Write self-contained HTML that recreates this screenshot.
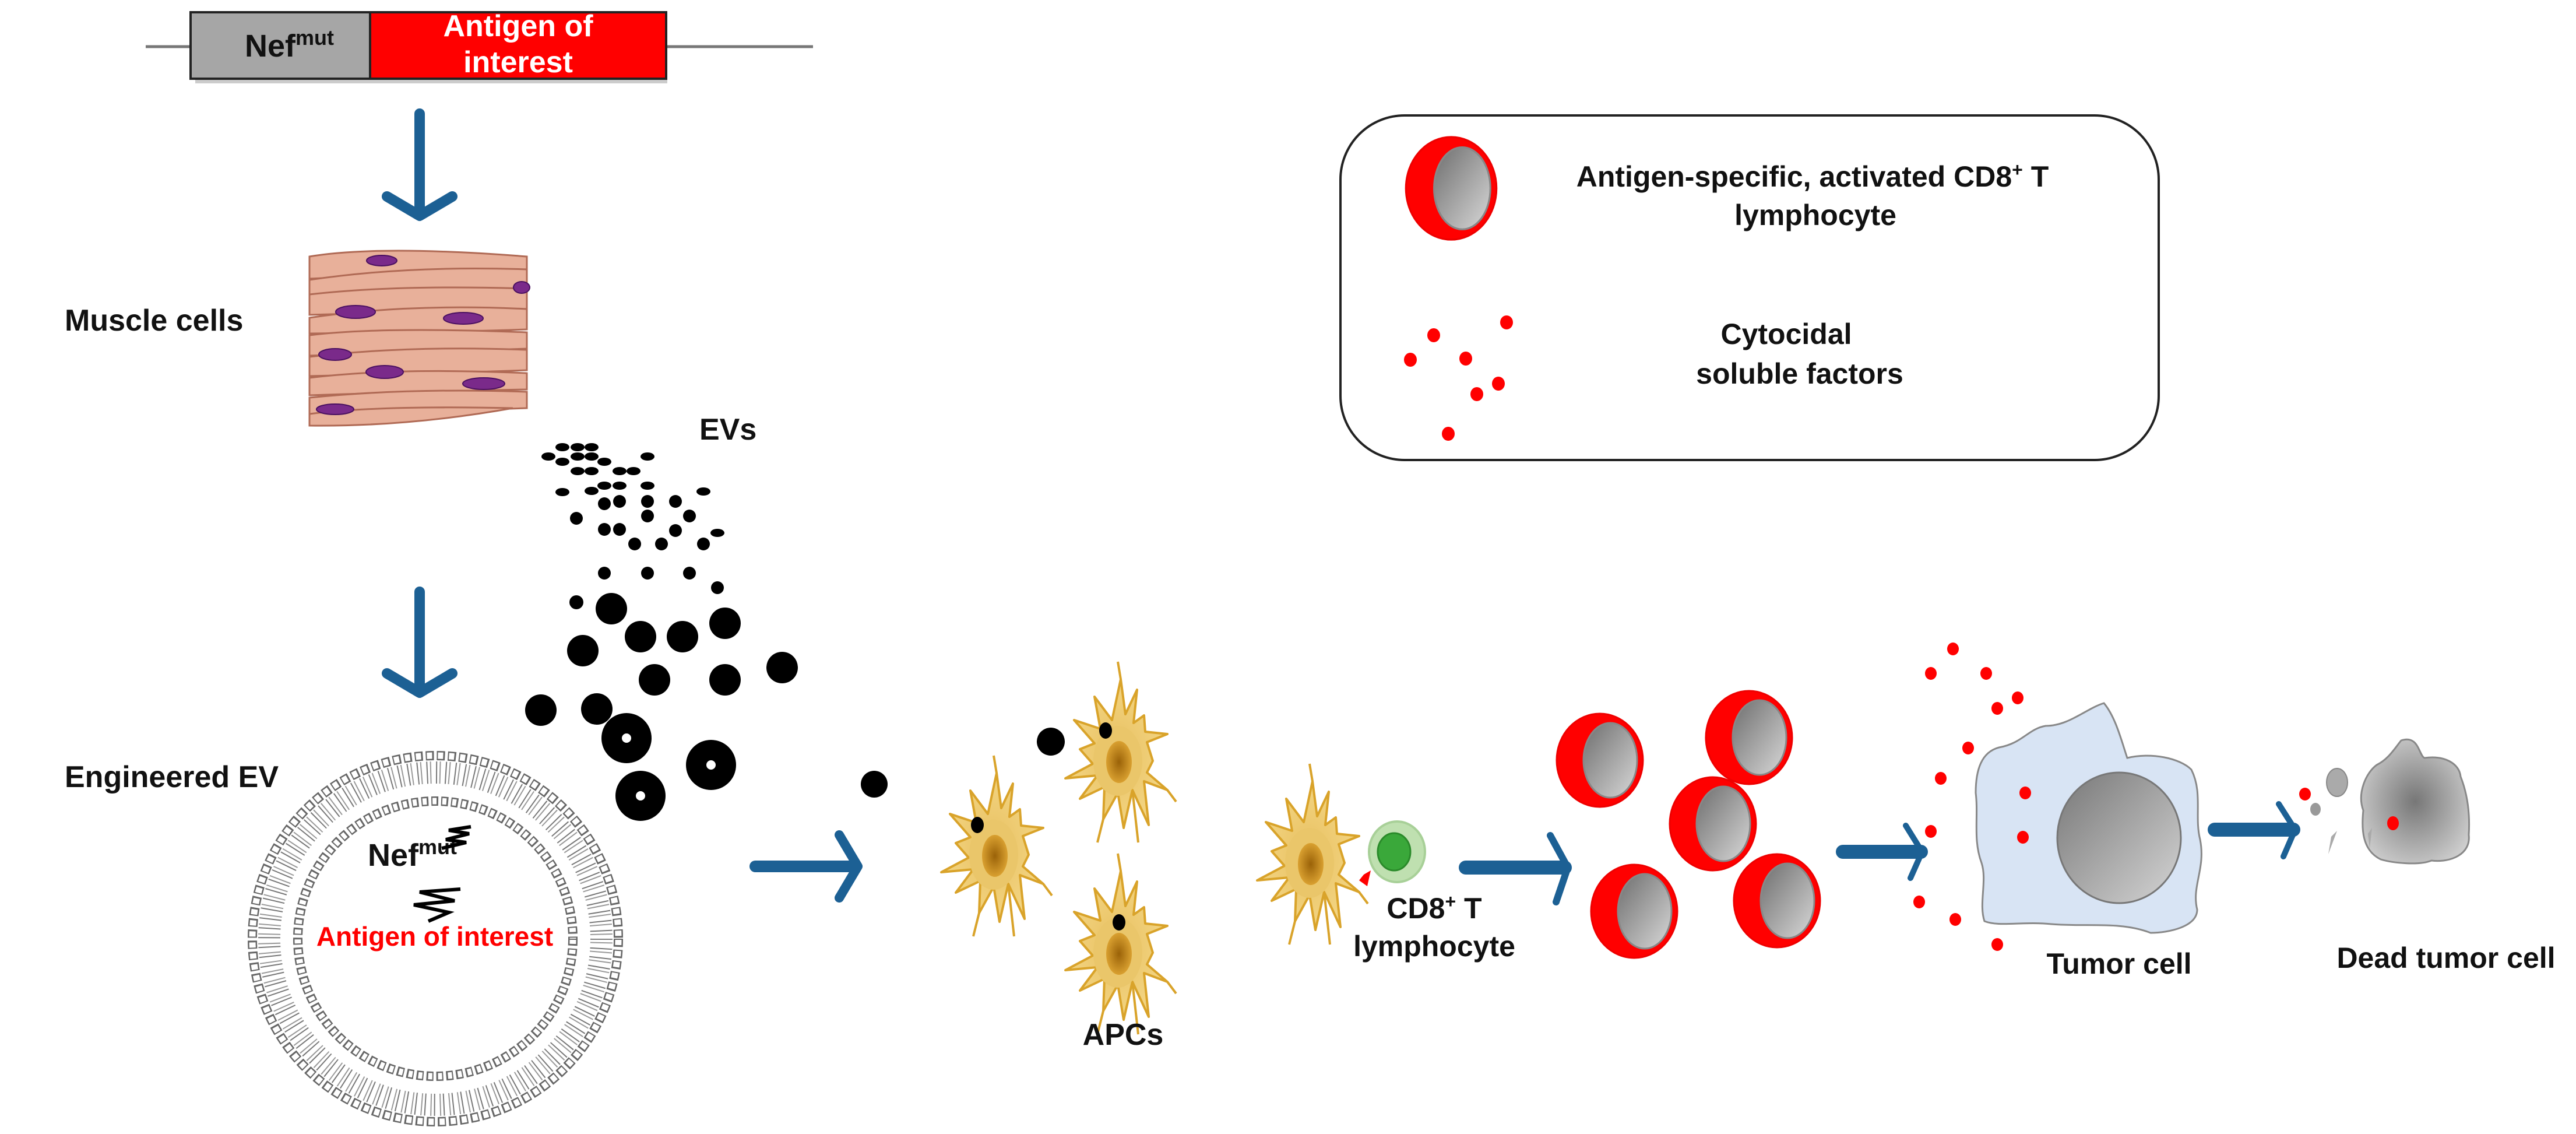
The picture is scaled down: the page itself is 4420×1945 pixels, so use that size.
<!DOCTYPE html>
<html><head><meta charset="utf-8"><style>
html,body{margin:0;padding:0;background:#fff}
svg{display:block}
text{font-family:"Liberation Sans",Arial,sans-serif;font-weight:bold}
</style></head><body>
<svg width="4420" height="1945" viewBox="0 0 4420 1945" xmlns="http://www.w3.org/2000/svg">
<defs>
<linearGradient id="gray" x1="0" y1="0" x2="1" y2="1"><stop offset="0" stop-color="#6e6e6e"/><stop offset="1" stop-color="#d8d8d8"/></linearGradient>
<radialGradient id="apc" cx="0.5" cy="0.5" r="0.6"><stop offset="0" stop-color="#e8c060"/><stop offset="1" stop-color="#f5d98a"/></radialGradient>
<radialGradient id="nuc" cx="0.5" cy="0.5" r="0.5"><stop offset="0" stop-color="#9a6208"/><stop offset="1" stop-color="#d9a030"/></radialGradient>
<radialGradient id="dead" cx="0.5" cy="0.5" r="0.6"><stop offset="0" stop-color="#777"/><stop offset="1" stop-color="#d0d0d0"/></radialGradient>
<linearGradient id="tnuc" x1="0" y1="0" x2="1" y2="1"><stop offset="0" stop-color="#777"/><stop offset="1" stop-color="#d5d5d5"/></linearGradient>
<g id="rcell">
  <ellipse cx="0" cy="0" rx="74" ry="80" fill="#f00" stroke="#e00" stroke-width="3"/>
  <ellipse cx="18" cy="0" rx="46" ry="64" fill="url(#gray)" stroke="#888" stroke-width="3"/>
</g>
<g id="apcg">
  <path d="M0,-130 L8,-70 L28,-112 L22,-55 L40,-68 L42,-40 L80,-36 L45,-22 L55,10 L45,30 L80,60 L40,45 L48,120 L20,60 L5,125 L-5,65 L-30,110 L-28,55 L-70,75 L-40,35 L-95,40 L-48,15 L-70,-10 L-45,-20 L-80,-60 L-35,-45 L-45,-100 L-15,-60 Z" fill="url(#apc)" stroke="#d9a32a" stroke-width="4" stroke-linejoin="round"/>
  <ellipse cx="-5" cy="10" rx="42" ry="60" fill="#eac66a"/>
  <ellipse cx="-3" cy="12" rx="22" ry="36" fill="url(#nuc)"/>
  <g stroke="#d9a32a" stroke-width="4" fill="none">
    <path d="M0,-130 L-5,-160"/><path d="M20,60 L30,150"/><path d="M-30,110 L-40,150"/><path d="M80,60 L95,80"/>
  </g>
</g>
</defs>

<!-- gene construct -->
<line x1="250" y1="80" x2="1395" y2="80" stroke="#777" stroke-width="5"/>
<rect x="335" y="29" width="810" height="114" fill="#999" opacity="0.5"/>
<rect x="327" y="21" width="308" height="114" fill="#a6a6a6" stroke="#222" stroke-width="4"/>
<rect x="635" y="21" width="508" height="114" fill="#f00" stroke="#222" stroke-width="4"/>
<text x="420" y="97" font-size="54" fill="#111">Nef<tspan font-size="36" dy="-20">mut</tspan></text>
<text x="889" y="62" font-size="52" fill="#fff" text-anchor="middle">Antigen of</text>
<text x="889" y="124" font-size="52" fill="#fff" text-anchor="middle">interest</text>

<!-- down arrows -->
<g stroke="#1c6094" stroke-width="18" fill="none" stroke-linecap="round" stroke-linejoin="round">
<line x1="720" y1="195" x2="720" y2="368"/><polyline points="664,337 720,370 776,337"/>
<line x1="720" y1="1015" x2="720" y2="1186"/><polyline points="664,1155 720,1188 776,1155"/>
</g>

<!-- muscle cells -->
<g>
<rect x="531" y="430" width="373" height="300" fill="#fff"/>
<g fill="#e8b09a" stroke="#b06a55" stroke-width="3">
<path d="M531,440 Q650,420 904,440 L904,462 Q700,470 531,478 Z"/>
<path d="M531,480 Q700,455 904,462 L904,500 Q760,505 531,510 Z"/>
<path d="M531,505 Q680,488 904,495 L904,530 Q700,535 531,540 Z"/>
<path d="M531,545 Q700,520 904,530 L904,565 Q760,570 531,572 Z"/>
<path d="M531,575 Q650,560 904,570 L904,598 Q700,605 531,610 Z"/>
<path d="M531,612 Q700,592 904,600 L904,635 Q760,640 531,645 Z"/>
<path d="M531,648 Q680,630 904,640 L904,668 Q700,672 531,678 Z"/>
<path d="M531,682 Q700,665 904,672 L904,700 Q760,705 531,710 Z"/>
<path d="M531,710 Q650,695 880,700 Q700,732 531,730 Z"/>
</g>
<g fill="#7a2a8a" stroke="#4a1060" stroke-width="2">
<ellipse cx="655" cy="447" rx="26" ry="9"/>
<ellipse cx="610" cy="535" rx="34" ry="11"/>
<ellipse cx="795" cy="546" rx="34" ry="10"/>
<ellipse cx="575" cy="608" rx="28" ry="10"/>
<ellipse cx="660" cy="638" rx="32" ry="11"/>
<ellipse cx="830" cy="658" rx="36" ry="10"/>
<ellipse cx="575" cy="702" rx="32" ry="9"/>
<ellipse cx="895" cy="493" rx="14" ry="10"/>
</g>
</g>
<text x="111" y="567" font-size="52" fill="#111">Muscle cells</text>
<text x="1200" y="754" font-size="52" fill="#111">EVs</text>
<text x="111" y="1350" font-size="52" fill="#111">Engineered EV</text>

<!-- EV dots -->
<g fill="#000">
<ellipse cx="965" cy="767" rx="12" ry="7"/><ellipse cx="991" cy="767" rx="12" ry="7"/><ellipse cx="1015" cy="767" rx="12" ry="7"/>
<ellipse cx="941" cy="783" rx="12" ry="7"/><ellipse cx="965" cy="792" rx="12" ry="7"/><ellipse cx="991" cy="783" rx="12" ry="7"/><ellipse cx="1015" cy="783" rx="12" ry="7"/><ellipse cx="1037" cy="792" rx="12" ry="7"/>
<ellipse cx="991" cy="808" rx="12" ry="7"/><ellipse cx="1015" cy="808" rx="12" ry="7"/><ellipse cx="1063" cy="808" rx="12" ry="7"/><ellipse cx="1087" cy="808" rx="12" ry="7"/><ellipse cx="1111" cy="783" rx="12" ry="7"/>
<ellipse cx="1037" cy="833" rx="12" ry="7"/><ellipse cx="1063" cy="833" rx="12" ry="7"/><ellipse cx="1111" cy="833" rx="12" ry="7"/>
<ellipse cx="965" cy="844" rx="12" ry="7"/><ellipse cx="1015" cy="842" rx="12" ry="7"/><ellipse cx="1207" cy="843" rx="12" ry="7"/><ellipse cx="1231" cy="914" rx="12" ry="7"/>
<circle cx="1037" cy="864" r="11"/><circle cx="1063" cy="860" r="11"/><circle cx="1111" cy="860" r="11"/><circle cx="1159" cy="860" r="11"/><circle cx="1111" cy="885" r="11"/><circle cx="1183" cy="885" r="11"/>
<circle cx="989" cy="889" r="11"/><circle cx="1037" cy="908" r="11"/><circle cx="1063" cy="908" r="11"/><circle cx="1159" cy="910" r="11"/>
<circle cx="1089" cy="933" r="11"/><circle cx="1135" cy="933" r="11"/><circle cx="1207" cy="933" r="11"/>
<circle cx="1037" cy="983" r="11"/><circle cx="1111" cy="983" r="11"/><circle cx="1183" cy="983" r="11"/><circle cx="1231" cy="1008" r="11"/>
<circle cx="989" cy="1033" r="12"/>
<circle cx="1049" cy="1044" r="27"/><circle cx="1099" cy="1092" r="27"/><circle cx="1171" cy="1092" r="27"/><circle cx="1244" cy="1069" r="27"/>
<circle cx="1000" cy="1116" r="27"/><circle cx="1123" cy="1166" r="27"/><circle cx="1244" cy="1166" r="27"/><circle cx="1342" cy="1145" r="27"/>
<circle cx="928" cy="1218" r="27"/><circle cx="1024" cy="1216" r="27"/>
<circle cx="1075" cy="1266" r="43"/><circle cx="1220" cy="1312" r="43"/><circle cx="1099" cy="1365" r="43"/>
<circle cx="1500" cy="1345" r="23"/><circle cx="1803" cy="1272" r="24"/>
</g>
<g fill="#fff"><circle cx="1075" cy="1266" r="8"/><circle cx="1220" cy="1312" r="8"/><circle cx="1099" cy="1365" r="8"/></g>

<!-- vesicle bilayer -->
<g fill="none">
<circle cx="747" cy="1610" r="314" stroke-width="16" stroke-dasharray="14 5" stroke="#666"/>
<circle cx="747" cy="1610" r="314" stroke-width="11" stroke-dasharray="9 10" stroke-dashoffset="-2" stroke="#fff"/>
<circle cx="747" cy="1610" r="285" stroke-width="38" stroke-dasharray="2 14" stroke="#777"/>
<circle cx="747" cy="1610" r="285" stroke-width="38" stroke-dasharray="2 14" stroke-dashoffset="-6" stroke="#999"/>
<circle cx="747" cy="1610" r="236" stroke-width="16" stroke-dasharray="12 5" stroke="#666"/>
<circle cx="747" cy="1610" r="236" stroke-width="11" stroke-dasharray="7 10" stroke-dashoffset="-2" stroke="#fff"/>
</g>
<text x="631" y="1485" font-size="54" fill="#111">Nef<tspan font-size="36" dy="-20">mut</tspan></text>
<path d="M758,1455 L800,1445 L765,1440 L805,1430 L770,1424 L808,1418" stroke="#000" stroke-width="6" fill="none"/>
<path d="M790,1525 L720,1530 L780,1545 L710,1552 L770,1565 L735,1580" stroke="#000" stroke-width="6" fill="none"/>
<text x="746" y="1622" font-size="46" fill="#f00" text-anchor="middle">Antigen of interest</text>

<!-- right arrows -->
<g stroke="#1c6094" stroke-width="20" fill="none" stroke-linejoin="round" stroke-linecap="round">
<line x1="1296" y1="1486" x2="1465" y2="1486"/><polyline points="1440,1432 1472,1486 1440,1540" stroke-width="16"/>
<line x1="2515" y1="1488" x2="2685" y2="1488" stroke-width="24"/><polyline points="2660,1433 2690,1488 2670,1547" stroke-width="12"/>
<line x1="3162" y1="1461" x2="3296" y2="1461" stroke-width="24"/><polyline points="3270,1416 3298,1461 3278,1506" stroke-width="10"/>
<line x1="3800" y1="1423" x2="3935" y2="1423" stroke-width="24"/><polyline points="3910,1379 3938,1423 3918,1469" stroke-width="10"/>
</g>

<!-- APCs -->
<use href="#apcg" transform="translate(1710,1456)"/>
<use href="#apcg" transform="translate(1923,1295)"/>
<use href="#apcg" transform="translate(1923,1624)"/>
<use href="#apcg" transform="translate(2252,1470)"/>
<g fill="#000">
<ellipse cx="1677" cy="1415" rx="11" ry="14"/><ellipse cx="1897" cy="1253" rx="11" ry="14"/><ellipse cx="1920" cy="1582" rx="11" ry="14"/>
</g>
<text x="1927" y="1792" font-size="52" fill="#111" text-anchor="middle">APCs</text>

<!-- T cell -->
<ellipse cx="2397" cy="1461" rx="48" ry="52" fill="#bfe0b0" stroke="#a8d098" stroke-width="4"/>
<ellipse cx="2392" cy="1461" rx="28" ry="32" fill="#3aa83a" stroke="#2a8a2a" stroke-width="3"/>
<path d="M2340,1500 L2352,1493 L2346,1520 L2332,1510 Z" fill="#f00"/>
<text x="2461" y="1575" font-size="50" fill="#111" text-anchor="middle">CD8<tspan font-size="32" dy="-18">+</tspan><tspan dy="18"> T</tspan></text>
<text x="2461" y="1640" font-size="50" fill="#111" text-anchor="middle">lymphocyte</text>

<!-- activated T cells -->
<use href="#rcell" transform="translate(2745,1304)"/>
<use href="#rcell" transform="translate(3001,1265)"/>
<use href="#rcell" transform="translate(2939,1413)"/>
<use href="#rcell" transform="translate(2804,1563)"/>
<use href="#rcell" transform="translate(3049,1545)"/>

<!-- tumor cell -->
<path d="M3610,1206 C3630,1230 3640,1270 3650,1300 C3690,1290 3740,1300 3760,1320 C3780,1360 3765,1400 3775,1440 C3785,1490 3760,1520 3770,1560 C3770,1590 3720,1600 3690,1600 C3640,1580 3580,1590 3520,1585 C3470,1580 3430,1590 3405,1580 C3395,1550 3410,1510 3400,1480 C3385,1440 3395,1400 3390,1360 C3390,1320 3400,1290 3430,1282 C3470,1275 3480,1250 3510,1245 C3550,1245 3580,1215 3610,1206 Z" fill="#d8e4f4" stroke="#888" stroke-width="3"/>
<ellipse cx="3636" cy="1437" rx="106" ry="112" fill="url(#tnuc)" stroke="#777" stroke-width="3"/>
<text x="3636" y="1670" font-size="50" fill="#111" text-anchor="middle">Tumor cell</text>

<!-- red dots near tumor -->
<g fill="#f00">
<ellipse cx="3351" cy="1113" rx="10" ry="11"/><ellipse cx="3313" cy="1155" rx="10" ry="11"/><ellipse cx="3408" cy="1155" rx="10" ry="11"/>
<ellipse cx="3462" cy="1197" rx="10" ry="11"/><ellipse cx="3427" cy="1215" rx="10" ry="11"/><ellipse cx="3377" cy="1283" rx="10" ry="11"/>
<ellipse cx="3330" cy="1335" rx="10" ry="11"/><ellipse cx="3475" cy="1360" rx="10" ry="11"/><ellipse cx="3313" cy="1426" rx="10" ry="11"/>
<ellipse cx="3471" cy="1436" rx="10" ry="11"/><ellipse cx="3293" cy="1547" rx="10" ry="11"/><ellipse cx="3355" cy="1577" rx="10" ry="11"/>
<ellipse cx="3427" cy="1620" rx="10" ry="11"/>
</g>

<!-- dead tumor cell -->
<path d="M4120,1270 C4150,1260 4150,1295 4160,1300 C4195,1295 4220,1310 4222,1332 C4235,1365 4238,1400 4236,1432 C4240,1465 4205,1480 4172,1476 C4150,1485 4105,1480 4085,1474 C4052,1458 4052,1420 4055,1390 C4044,1360 4060,1325 4078,1312 C4098,1302 4108,1285 4120,1270 Z" fill="url(#dead)" stroke="#888" stroke-width="3"/>
<ellipse cx="4010" cy="1342" rx="18" ry="24" fill="#aaa" stroke="#888" stroke-width="2"/>
<ellipse cx="3973" cy="1388" rx="9" ry="11" fill="#999"/>
<path d="M4000,1435 L4010,1425 L3995,1465 Z" fill="#aaa"/>
<path d="M4063,1430 L4070,1420 L4066,1455 Z" fill="#aaa"/>
<ellipse cx="3955" cy="1362" rx="10" ry="11" fill="#f00"/>
<ellipse cx="4106" cy="1412" rx="10" ry="12" fill="#f00"/>
<text x="4197" y="1660" font-size="50" fill="#111" text-anchor="middle">Dead tumor cell</text>

<!-- legend -->
<rect x="2300" y="198" width="1404" height="591" rx="110" ry="110" fill="#fff" stroke="#222" stroke-width="4"/>
<g transform="translate(2490,323) scale(1.05,1.1)"><use href="#rcell"/></g>
<text x="3110" y="320" font-size="50" fill="#111" text-anchor="middle">Antigen-specific, activated CD8<tspan font-size="32" dy="-18">+</tspan><tspan dy="18"> T</tspan></text>
<text x="3115" y="386" font-size="50" fill="#111" text-anchor="middle">lymphocyte</text>
<text x="3065" y="590" font-size="50" fill="#111" text-anchor="middle">Cytocidal</text>
<text x="3088" y="658" font-size="50" fill="#111" text-anchor="middle">soluble factors</text>
<g fill="#f00">
<ellipse cx="2585" cy="553" rx="11" ry="12"/><ellipse cx="2460" cy="575" rx="11" ry="12"/><ellipse cx="2420" cy="617" rx="11" ry="12"/>
<ellipse cx="2515" cy="615" rx="11" ry="12"/><ellipse cx="2571" cy="658" rx="11" ry="12"/><ellipse cx="2534" cy="676" rx="11" ry="12"/>
<ellipse cx="2485" cy="744" rx="11" ry="12"/>
</g>
</svg>
</body></html>
